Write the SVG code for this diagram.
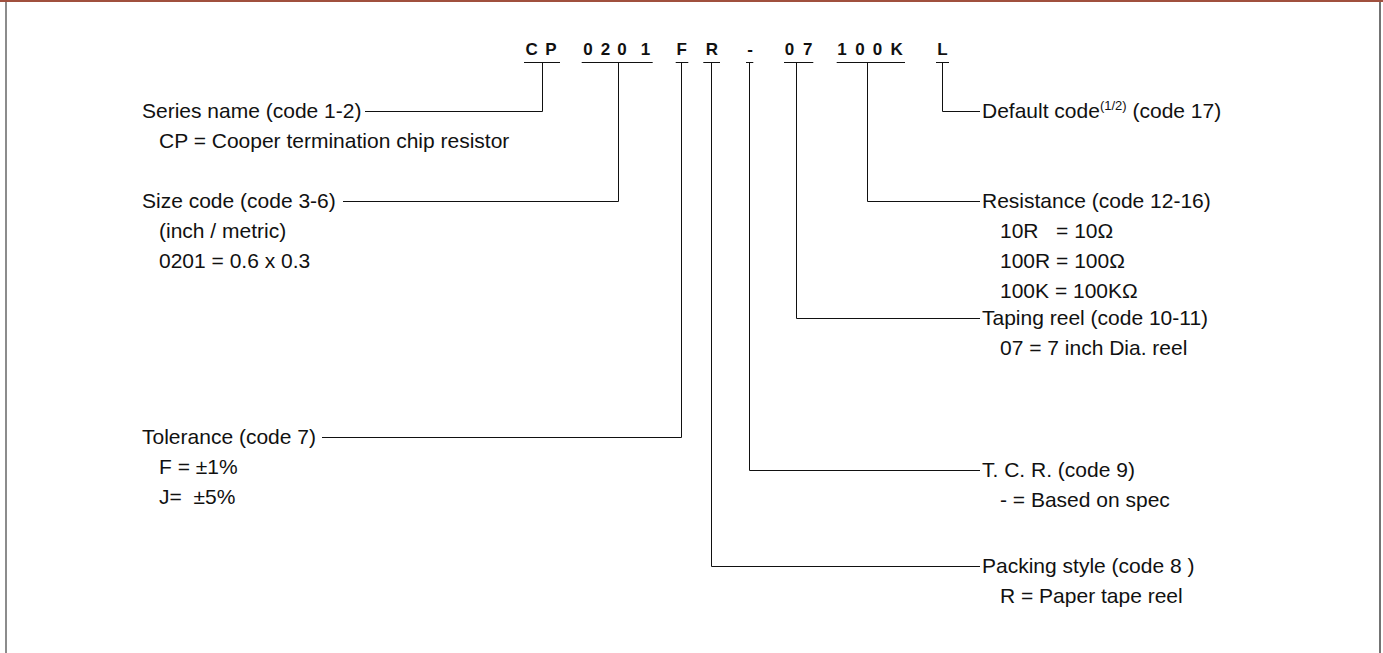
<svg xmlns="http://www.w3.org/2000/svg" width="1383" height="653" viewBox="0 0 1383 653">
<style>
.t{font-family:"Liberation Sans",Arial,sans-serif;font-size:21px;fill:#111;white-space:pre}
.c{font-family:"Liberation Sans",Arial,sans-serif;font-size:17px;font-weight:bold;fill:#111;text-anchor:middle}
.ln{stroke:#111;stroke-width:1;fill:none}
.sup{font-size:13px}
</style>
<rect x="0" y="0" width="1383" height="653" fill="#fff"/>
<g id="frame">
<line x1="0" y1="1" x2="1383" y2="1" stroke="#a0503e" stroke-width="2"/>
<line x1="6" y1="2" x2="6" y2="653" stroke="#666" stroke-width="1.5"/>
<line x1="1380" y1="2" x2="1380" y2="653" stroke="#444" stroke-width="1.5"/>
</g>
<g id="code">
<text class="c" x="531.7 551" y="55">CP</text>
<text class="c" x="588 605.5 622 645.5" y="55">0201</text>
<text class="c" x="681.7" y="55">F</text>
<text class="c" x="712" y="55">R</text>
<text class="c" x="750" y="55">-</text>
<text class="c" x="789.5 807.8" y="55">07</text>
<text class="c" x="842 860 877.5 896.7" y="55">100K</text>
<text class="c" x="942.5" y="55">L</text>
</g>
<g id="connectors" class="ln">
<path d="M524 62.5H560M542.5 62.5V111.5H365"/>
<path d="M581.7 62.5H652.7M618.5 62.5V201.5H343"/>
<path d="M675.7 62.5H688.3M681.5 62.5V437.5H322"/>
<path d="M703.3 62.5H720M711.5 62.5V566.5H980"/>
<path d="M746 62.5H753.3M749.5 62.5V470.5H980"/>
<path d="M784 62.5H813.3M796.5 62.5V318.5H980"/>
<path d="M836.7 62.5H905M867.5 62.5V201.5H980"/>
<path d="M936 62.5H949M942.5 62.5V111.5H980"/>
</g>
<g id="series">
<text class="t" x="142" y="118">Series name (code 1-2)</text>
<text class="t" x="159" y="148">CP = Cooper termination chip resistor</text>
</g>
<g id="size">
<text class="t" x="142" y="208">Size code (code 3-6)</text>
<text class="t" x="159" y="238">(inch / metric)</text>
<text class="t" x="159" y="268">0201 = 0.6 x 0.3</text>
</g>
<g id="tolerance">
<text class="t" x="142" y="444">Tolerance (code 7)</text>
<text class="t" x="159" y="474">F = ±1%</text>
<text class="t" x="159" y="504">J=  ±5%</text>
</g>
<g id="default">
<text class="t" x="982" y="118">Default code<tspan class="sup" dy="-8">(1/2)</tspan><tspan dy="8"> (code 17)</tspan></text>
</g>
<g id="resistance">
<text class="t" x="982" y="208">Resistance (code 12-16)</text>
<text class="t" x="1000" y="238">10R   = 10Ω</text>
<text class="t" x="1000" y="268">100R = 100Ω</text>
<text class="t" x="1000" y="298">100K = 100KΩ</text>
</g>
<g id="taping">
<text class="t" x="982" y="325">Taping reel (code 10-11)</text>
<text class="t" x="1000" y="355">07 = 7 inch Dia. reel</text>
</g>
<g id="tcr">
<text class="t" x="982" y="477">T. C. R. (code 9)</text>
<text class="t" x="1000" y="507">- = Based on spec</text>
</g>
<g id="packing">
<text class="t" x="982" y="573">Packing style (code 8 )</text>
<text class="t" x="1000" y="603">R = Paper tape reel</text>
</g>
</svg>
